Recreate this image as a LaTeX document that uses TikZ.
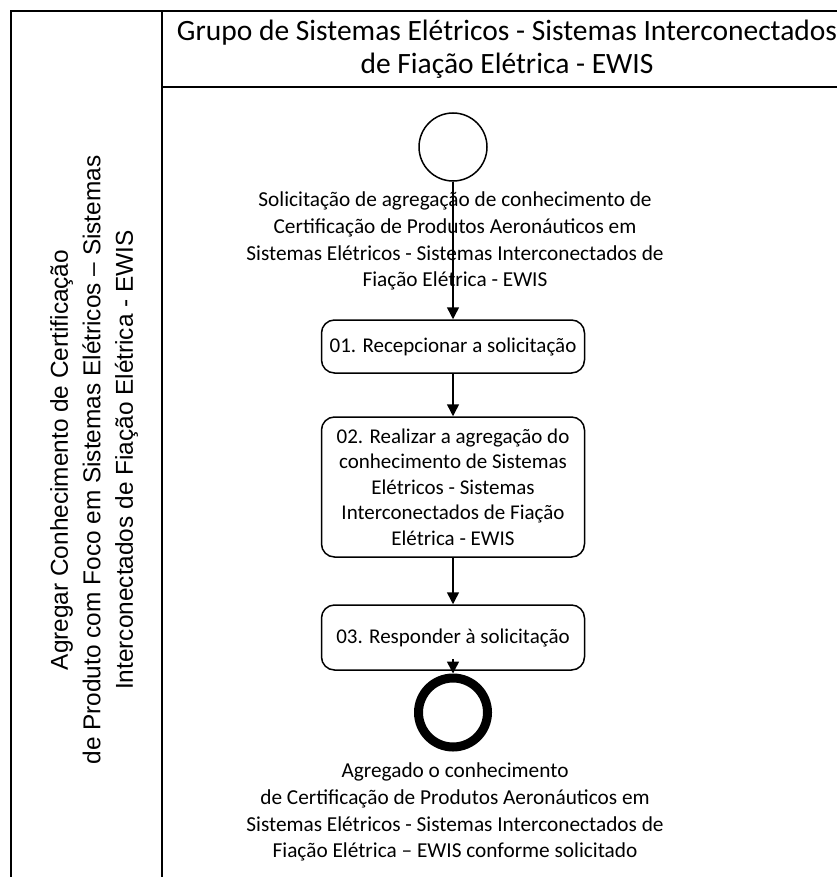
\documentclass[tikz,border=0pt]{standalone}
\usepackage{fontspec}
\setmainfont{Carlito}
\newfontfamily\lanefont{Liberation Sans}
\usetikzlibrary{arrows.meta, positioning}
\tikzset{
	activity/.style={draw, line width=1.5pt, rounded corners=13pt, minimum width=263pt,
		align=center, font=\fontsize{21}{25.5}\selectfont}
}
\tikzset{
	evlabel/.style={align=center, font=\fontsize{21.3}{26.8}\selectfont}
}
\tikzset{
	flow/.style={line width=1.5pt, -{Triangle[width=12pt,length=12pt]}}
}
\begin{document}
\begin{tikzpicture}[x=1pt, y=-1pt]
      \useasboundingbox (0,0) rectangle (837,877);
      % pool and lane
      \draw[line width=1.8pt] (11,877) -- (11,11) -- (837,11);
      \draw[line width=1.8pt] (162,11) -- (162,877);
      \draw[line width=1.8pt] (162,87) -- (837,87);
      \node[align=center, font=\fontsize{29.5}{32.5}\selectfont] (lanetitle) at (507,49)
        {Grupo de Sistemas Elétricos - Sistemas Interconectados\\de Fiação Elétrica - EWIS};
      \node[rotate=90, align=center, font=\lanefont\fontsize{24.4}{32.5}\selectfont] (pooltitle) at (94,460)
        {Agregar Conhecimento de Certificação\\de Produto com Foco em Sistemas Elétricos – Sistemas\\Interconectados de Fiação Elétrica - EWIS};
      % events and activities
      \node[draw, circle, line width=1.5pt, minimum size=68pt] (start) at (453,147) {};
      \node[activity, minimum height=53pt] (recep) at (453,346.5) {01. Recepcionar a solicitação};
      \node[activity, minimum height=140pt] (agreg) at (453,487)
        {02. Realizar a agregação do\\conhecimento de Sistemas\\Elétricos - Sistemas\\Interconectados de Fiação\\Elétrica - EWIS};
      \node[activity, minimum height=65pt] (resp) at (453,637.5) {03. Responder à solicitação};
      \node[draw, circle, line width=9pt, minimum size=69pt] (end) at (453,712.5) {};
      % flows
      \draw[flow] (start) -- (recep);
      \draw[flow] (recep) -- (agreg);
      \draw[flow] (agreg) -- (resp);
      \draw[flow] ([yshift=12pt]resp.south) -- (end.north);
      % event labels
      \node[evlabel] (startlbl) at (455,241)
        {Solicitação de agregação de conhecimento de\\Certificação de Produtos Aeronáuticos em\\Sistemas Elétricos - Sistemas Interconectados de\\Fiação Elétrica - EWIS};
      \node[evlabel] (endlbl) at (455,812)
        {Agregado o conhecimento\\de Certificação de Produtos Aeronáuticos em\\Sistemas Elétricos - Sistemas Interconectados de\\Fiação Elétrica – EWIS conforme solicitado};
    \end{tikzpicture}
\end{document}
